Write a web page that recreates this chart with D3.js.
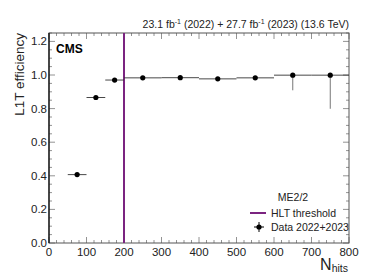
<!DOCTYPE html>
<html>
<head>
<meta charset="utf-8">
<script src="https://cdn.jsdelivr.net/npm/d3@7"></script>
<style>
  body { margin: 0; background: #fff; }
  text { font-family: "Liberation Sans", Arial, sans-serif; }
</style>
</head>
<body>
<svg id="chart" width="389" height="278"></svg>
<script>
// bins in N_hits and measured efficiency
const binLow = [50, 100, 150, 200, 300, 400, 500, 600, 700];
const binHigh = [100, 150, 200, 300, 400, 500, 600, 700, 800];
const efficiency = [0.407, 0.866, 0.970, 0.983, 0.984, 0.977, 0.983, 0.999, 0.999];
const errDown = [0.006, 0.006, 0.006, 0.004, 0.004, 0.006, 0.008, 0.09, 0.20];
const errUp = [0.006, 0.006, 0.004, 0.003, 0.003, 0.004, 0.005, 0.001, 0.001];
const hltThreshold = 200;
const xTicks = [0, 100, 200, 300, 400, 500, 600, 700, 800];
const yTicks = [0.0, 0.2, 0.4, 0.6, 0.8, 1.0, 1.2];

const svg = d3.select('#chart');
const pLeft = 49, pRight = 349, pTop = 33, pBottom = 243;

const x = d3.scaleLinear().domain([0, 800]).range([pLeft, pRight]);
const y = d3.scaleLinear().domain([0, 1.25]).range([pBottom, pTop]);

const data = binLow.map((lo, i) => ({
  lo: lo, hi: binHigh[i], mid: (lo + binHigh[i]) / 2,
  eff: efficiency[i], dn: errDown[i], up: errUp[i]
}));

// ticks (ROOT style, inside the frame, on all four sides)
const xMinor = d3.range(0, 801, 20);
const yMinor = d3.range(0, 1.2501, 0.05);
const tickColor = '#777';

const tk = svg.append('g').attr('stroke', tickColor).attr('stroke-width', 0.8);
xMinor.forEach(v => {
  const len = (Math.round(v) % 100 === 0) ? 6 : 3;
  tk.append('line').attr('x1', x(v)).attr('x2', x(v)).attr('y1', pBottom).attr('y2', pBottom - len);
  tk.append('line').attr('x1', x(v)).attr('x2', x(v)).attr('y1', pTop).attr('y2', pTop + len);
});
yMinor.forEach(v => {
  const major = Math.abs(v * 5 - Math.round(v * 5)) < 1e-6;
  const len = major ? 6 : 3;
  tk.append('line').attr('x1', pLeft).attr('x2', pLeft + len).attr('y1', y(v)).attr('y2', y(v));
  tk.append('line').attr('x1', pRight).attr('x2', pRight - len).attr('y1', y(v)).attr('y2', y(v));
});

// frame
svg.append('rect').attr('x', pLeft).attr('y', pTop)
  .attr('width', pRight - pLeft).attr('height', pBottom - pTop)
  .attr('fill', 'none').attr('stroke', '#555').attr('stroke-width', 1);
svg.append('line').attr('x1', pLeft).attr('x2', pLeft).attr('y1', pTop).attr('y2', pBottom)
  .attr('stroke', '#111').attr('stroke-width', 1.3);

// tick labels
svg.append('g').selectAll('text').data(xTicks).enter().append('text')
  .attr('x', d => x(d)).attr('y', pBottom + 13)
  .attr('text-anchor', 'middle').attr('font-size', 11.5).attr('fill', '#222')
  .text(d => d);
svg.append('g').selectAll('text').data(yTicks).enter().append('text')
  .attr('x', pLeft - 2).attr('y', d => y(d) + 4)
  .attr('text-anchor', 'end').attr('font-size', 11.5).attr('fill', '#222')
  .text(d => d.toFixed(1));

// HLT threshold
svg.append('line')
  .attr('x1', x(hltThreshold)).attr('x2', x(hltThreshold))
  .attr('y1', pTop).attr('y2', pBottom)
  .attr('stroke', '#7b2480').attr('stroke-width', 2);

// data points with bin width and error bars
const pts = svg.append('g');
data.forEach(d => {
  pts.append('line').attr('x1', x(d.lo)).attr('x2', x(d.hi))
    .attr('y1', y(d.eff)).attr('y2', y(d.eff))
    .attr('stroke', '#333').attr('stroke-width', 0.9);
  pts.append('line').attr('x1', x(d.mid)).attr('x2', x(d.mid))
    .attr('y1', y(d.eff - d.dn)).attr('y2', y(d.eff + d.up))
    .attr('stroke', '#666').attr('stroke-width', 0.9);
  pts.append('circle').attr('cx', x(d.mid)).attr('cy', y(d.eff))
    .attr('r', 2.6).attr('fill', '#000');
});

// texts
svg.append('text').attr('x', pRight).attr('y', 28).attr('text-anchor', 'end')
  .attr('font-size', 10.5).attr('fill', '#222')
  .html('23.1 fb<tspan dy="-4" font-size="7">-1</tspan><tspan dy="4"> (2022) + 27.7 fb</tspan><tspan dy="-4" font-size="7">-1</tspan><tspan dy="4"> (2023) (13.6 TeV)</tspan>');

svg.append('text').attr('x', 56).attr('y', 53)
  .attr('font-size', 12).attr('font-weight', 'bold').attr('fill', '#000').text('CMS');

svg.append('text').attr('transform', `translate(24,${pTop}) rotate(-90)`)
  .attr('text-anchor', 'end').attr('font-size', 13.5).attr('fill', '#222')
  .text('L1T efficiency');

svg.append('text').attr('x', pRight - 1).attr('y', 270).attr('text-anchor', 'end')
  .attr('fill', '#222').attr('font-size', 16)
  .html('N<tspan font-size="10.5" dy="2">hits</tspan>');

// legend
svg.append('text').attr('x', 293).attr('y', 201).attr('text-anchor', 'middle')
  .attr('font-size', 10.5).attr('fill', '#222').text('ME2/2');
svg.append('line').attr('x1', 250).attr('x2', 266).attr('y1', 213).attr('y2', 213)
  .attr('stroke', '#7b2480').attr('stroke-width', 2);
svg.append('text').attr('x', 271).attr('y', 217).attr('font-size', 10.5)
  .attr('fill', '#222').text('HLT threshold');
svg.append('line').attr('x1', 254).attr('x2', 264).attr('y1', 227).attr('y2', 227)
  .attr('stroke', '#000').attr('stroke-width', 1);
svg.append('line').attr('x1', 259).attr('x2', 259).attr('y1', 222).attr('y2', 232)
  .attr('stroke', '#000').attr('stroke-width', 1);
svg.append('circle').attr('cx', 259).attr('cy', 227).attr('r', 2.6).attr('fill', '#000');
svg.append('text').attr('x', 271).attr('y', 231).attr('font-size', 10.5)
  .attr('fill', '#222').text('Data 2022+2023');
</script>
</body>
</html>
